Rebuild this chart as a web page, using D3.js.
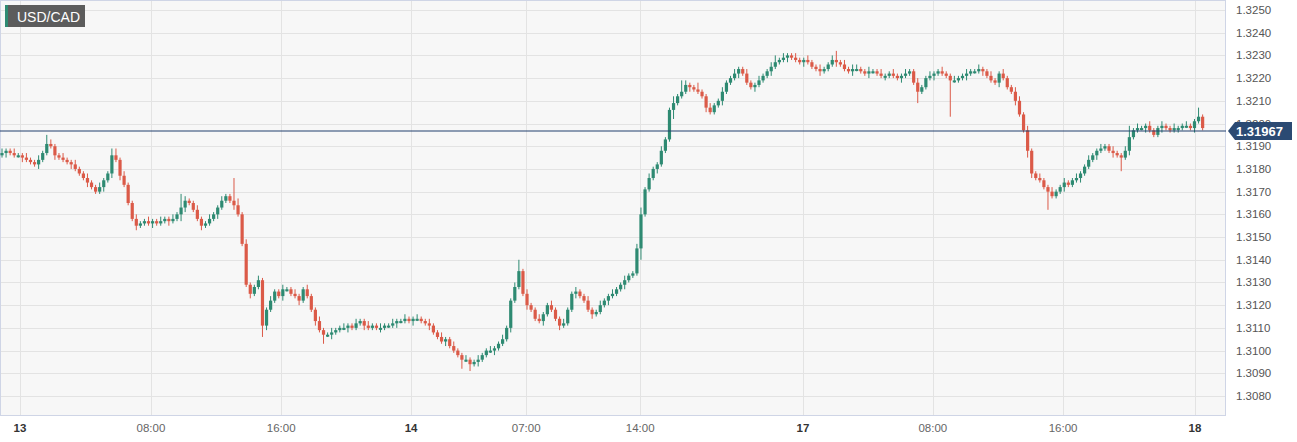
<!DOCTYPE html>
<html><head><meta charset="utf-8">
<script src="https://cdn.jsdelivr.net/npm/d3@7"></script>
<style>body{margin:0;background:#fff}svg{display:block;font-family:"Liberation Sans",Arial,sans-serif}</style>
</head><body><svg id="c" width="1297" height="442"></svg>
<script>
// closes in pips above 1.3000 (15-min candles)
const closes = [187,188,187,186,186,185,184,183,182,184,
187,191,190,186,185,184,183,182,180,178,
176,174,172,170,172,175,178,186,184,177,
173,165,158,155,156,157,156,157,156,157,
158,157,158,160,163,166,165,162,158,155,
156,158,160,163,166,168,166,164,160,147,
129,125,128,131,111,118,122,126,124,127,
127,125,124,122,127,124,118,113,109,107,
107,108,109,110,110,111,110,112,113,111,
110,111,110,110,111,111,112,113,113,114,
113,114,114,113,112,111,108,106,104,105,
102,100,98,96,96,94,95,96,98,100,
100,101,103,105,110,122,128,135,125,120,
118,114,113,116,120,118,114,111,112,118,
125,126,124,122,118,116,117,120,122,124,
125,127,129,131,133,134,145,160,171,176,
180,182,188,193,206,209,212,214,217,216,
215,214,212,207,205,208,210,214,218,220,
222,224,222,218,216,217,219,221,223,225,
227,228,229,230,229,228,227,228,227,225,
224,223,224,226,228,227,226,224,223,224,
224,223,222,223,223,222,221,221,222,221,
220,221,222,223,218,214,216,220,221,222,
223,222,221,219,219,220,221,222,223,223,
224,223,221,219,218,222,220,216,214,210,
204,197,188,178,176,175,172,170,168,170,
172,174,173,175,176,178,181,184,186,188,
189,190,188,187,186,185,188,194,197,198,
198,199,197,195,198,199,198,197,198,198,
199,199,198,201,203,198];
const firstOpen = 186;
const spikeIdx = [11,27,28,44,57,58,64,79,113,115,127,157,165,167,171,190,205,209,225,233,250,252,257,275,277,294];
const spikeHi  = [3, 1, 2, 5, 8, 2, 0, 0, 0, 0, 4, 2, 1, 4, 1, 2, 3, 1, 0, 0, 1, 0, 0, 0, 4, 2];
const spikeLo  = [0, 1, 0, 2, 0, 0, 4, 3, 2, 2, 0, 3, 2, 0, 0, 0, 0, 0, 3,14, 0, 2, 6, 5, 0, 0];
const priceTicks = [1.3250,1.3240,1.3230,1.3220,1.3210,1.3200,1.3190,1.3180,1.3170,1.3160,1.3150,1.3140,1.3130,1.3120,1.3110,1.3100,1.3090,1.3080];
const timeTickIdx = [4.4,36.6,68.6,100.5,128.8,156.8,196.8,228.7,260.7,293.1];
const timeTickLabels = ["13","08:00","16:00","14","07:00","14:00","17","08:00","16:00","18"];
const dayLabels = ["13","14","17","18"];
const lastPrice = 1.31967;
const symbol = "USD/CAD";

const svg = d3.select("#c");
const plotR=1226, plotB=416;
const x = d3.scaleLinear().domain([0,296]).range([2,1206.7]);
const y = d3.scaleLinear().domain([1.3250,1.3080]).range([10,396]);
const green="#2e8a72", red="#db5a48";

svg.append("rect").attr("width",plotR).attr("height",plotB).attr("fill","#f7f7f7");
svg.append("g").selectAll("line").data(priceTicks).join("line")
  .attr("x1",0).attr("x2",plotR).attr("y1",d=>Math.round(y(d))+.5).attr("y2",d=>Math.round(y(d))+.5)
  .attr("stroke","#e3e3e3");
svg.append("g").selectAll("line").data(timeTickIdx).join("line")
  .attr("y1",0).attr("y2",plotB).attr("x1",d=>Math.round(x(d))+.5).attr("x2",d=>Math.round(x(d))+.5)
  .attr("stroke","#e3e3e3");
svg.append("rect").attr("x",.5).attr("y",.5).attr("width",plotR-1).attr("height",plotB-1).attr("fill","none").attr("stroke","#cfd5e6");

const candles = closes.map((c,i)=>{
  const o = i===0?firstOpen:closes[i-1];
  let hi=Math.max(o,c)+ (i%3===0?2:1), lo=Math.min(o,c)-(i%4===1?2:1);
  const k=spikeIdx.indexOf(i);
  if(k>=0){hi+=spikeHi[k];lo-=spikeLo[k];}
  return {i,o:1.3+o/10000,c:1.3+c/10000,h:1.3+hi/10000,l:1.3+lo/10000};
});
const g=svg.append("g");
g.selectAll("line").data(candles).join("line")
  .attr("x1",d=>x(d.i)).attr("x2",d=>x(d.i)).attr("y1",d=>y(d.h)).attr("y2",d=>y(d.l))
  .attr("stroke",d=>d.c>=d.o?green:red).attr("stroke-width",1);
g.selectAll("rect").data(candles).join("rect")
  .attr("x",d=>x(d.i)-1.6).attr("width",3.2)
  .attr("y",d=>y(Math.max(d.o,d.c))).attr("height",d=>Math.max(2,Math.abs(y(d.o)-y(d.c))))
  .attr("fill",d=>d.c>=d.o?green:red);

svg.append("line").attr("x1",0).attr("x2",plotR).attr("y1",y(lastPrice)).attr("y2",y(lastPrice)).attr("stroke","#22406e").attr("stroke-width",1.2);

svg.append("g").selectAll("text").data(priceTicks).join("text")
  .attr("x",1236).attr("y",d=>y(d)+4).attr("font-size",11.5).attr("fill","#555").text(d=>d.toFixed(4));
const ly=y(lastPrice);
svg.append("path").attr("d",`M1228,${ly} L1235,${ly-9} L1292,${ly-9} L1292,${ly+9} L1235,${ly+9} Z`).attr("fill","#2b4a73");
svg.append("text").attr("x",1236).attr("y",ly+5).attr("font-size",13).attr("font-weight","bold").attr("fill","#fff").text(lastPrice.toFixed(5));

svg.append("g").selectAll("text").data(timeTickIdx).join("text")
  .attr("x",d=>x(d)).attr("y",432).attr("text-anchor","middle").attr("font-size",11.5)
  .attr("font-weight",(d,i)=>dayLabels.includes(timeTickLabels[i])?"bold":"normal")
  .attr("fill",(d,i)=>dayLabels.includes(timeTickLabels[i])?"#333":"#666")
  .text((d,i)=>timeTickLabels[i]);

svg.append("rect").attr("x",5).attr("y",5).attr("width",80).attr("height",22).attr("fill","#5c5c5c");
svg.append("rect").attr("x",5).attr("y",5).attr("width",3).attr("height",22).attr("fill","#2e8a72");
svg.append("text").attr("x",17).attr("y",21.5).attr("font-size",14).attr("fill","#fff").text(symbol);
</script></body></html>
